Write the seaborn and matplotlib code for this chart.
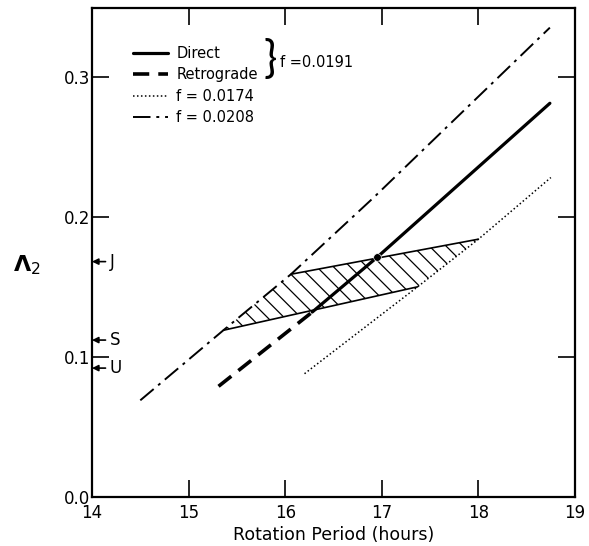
import matplotlib
matplotlib.use("Agg")
import matplotlib.pyplot as plt
import seaborn as sns
from matplotlib.lines import Line2D

# ---- data ----
dd_x = [14.50, 15.36, 16.06, 16.92, 18.74]      # f = 0.0208 (dash-dot)
dd_y = [0.069, 0.119, 0.159, 0.214, 0.335]
direct_x = [16.28, 16.95, 18.74]                 # Direct, f = 0.0191
direct_y = [0.132, 0.171, 0.281]
retro_x = [15.31, 16.28]                         # Retrograde, f = 0.0191
retro_y = [0.079, 0.132]
dot_x = [16.20, 17.37, 18.00, 18.75]             # f = 0.0174 (dotted)
dot_y = [0.088, 0.150, 0.184, 0.228]
hatch_x = [15.36, 16.06, 18.00, 17.37]           # hatched region corners
hatch_y = [0.119, 0.159, 0.184, 0.150]
point_x = [16.95]
point_y = [0.171]
planet_names = ["J", "S", "U"]
planet_vals = [0.168, 0.112, 0.092]
xticks = [14, 15, 16, 17, 18, 19]
yticks = [0.0, 0.1, 0.2, 0.3]

sns.set_style("ticks")
plt.rcParams['font.family'] = ['DejaVu Sans']
plt.rcParams['hatch.linewidth'] = 0.9
for k in ['text.color', 'axes.labelcolor', 'xtick.color', 'ytick.color', 'axes.edgecolor']:
    plt.rcParams[k] = 'black'

fig = plt.figure(figsize=(5.89, 5.46), dpi=100)
ax = fig.add_axes([92/589, 1-497/546, 483/589, 489/546])

sns.lineplot(x=dd_x, y=dd_y, ax=ax, color='black', lw=1.4,
             linestyle=(0, (9, 3, 1.5, 3)), sort=False, estimator=None)
sns.lineplot(x=direct_x, y=direct_y, ax=ax, color='black', lw=2.3,
             sort=False, estimator=None)
sns.lineplot(x=retro_x, y=retro_y, ax=ax, color='black', lw=2.6,
             linestyle=(0, (4.5, 2.5)), sort=False, estimator=None)
sns.lineplot(x=dot_x, y=dot_y, ax=ax, color='black', lw=1.1,
             linestyle=(0, (1, 1.6)), sort=False, estimator=None)

# hatched region
ax.fill(hatch_x, hatch_y, facecolor='none', edgecolor='black', hatch='\\\\', lw=0)
ax.plot([hatch_x[0], hatch_x[3]], [hatch_y[0], hatch_y[3]], color='black', lw=1.2)
ax.plot([hatch_x[1], hatch_x[2]], [hatch_y[1], hatch_y[2]], color='black', lw=1.2)
sns.scatterplot(x=point_x, y=point_y, ax=ax, color='black', s=30, zorder=5)

# planets
for name, v in zip(planet_names, planet_vals):
    ax.annotate("", xy=(14.0, v), xytext=(14.14, v),
                arrowprops=dict(arrowstyle='-|>', color='black', lw=1.2,
                                mutation_scale=9, shrinkA=0, shrinkB=0))
    ax.text(14.18, v, name, fontsize=12, va='center', ha='left')

ax.set_xlim(14, 19)
ax.set_ylim(0, 0.349)
ax.set_xticks(xticks)
ax.set_xticklabels([str(t) for t in xticks])
ax.set_yticks(yticks)
ax.set_yticklabels([f"{t:.1f}" for t in yticks])
ax.tick_params(direction='in', length=12, width=1.2, top=True, right=True,
               labelsize=12)
ax.tick_params(axis='x', pad=5)
ax.tick_params(axis='y', pad=1)
for s in ax.spines.values():
    s.set_linewidth(1.6)
    s.set_visible(True)

ax.set_xlabel("Rotation Period (hours)", fontsize=12.5, labelpad=3)
ax.set_ylabel(r"$\mathbf{\Lambda}_{2}$", fontsize=16, rotation=0)
ax.yaxis.set_label_coords(-0.135, 0.45)

# legend
handles = [Line2D([], [], color='black', lw=2.3),
           Line2D([], [], color='black', lw=2.6, linestyle=(0, (4.5, 2.5))),
           Line2D([], [], color='black', lw=1.1, linestyle=(0, (1, 1.6))),
           Line2D([], [], color='black', lw=1.4, linestyle=(0, (9, 3, 1.5, 3)))]
labels = ["Direct", "Retrograde", "f = 0.0174", "f = 0.0208"]
leg = ax.legend(handles, labels, loc='upper left', bbox_to_anchor=(0.072, 0.935),
                frameon=False, fontsize=10.5, handlelength=2.4, handletextpad=0.6,
                labelspacing=0.45, borderaxespad=0)
ax.text(0.355, 0.892, "}", transform=ax.transAxes, fontsize=32, va='center',
        ha='left', family=['Lato'], fontweight='normal')
ax.text(0.390, 0.888, "f =0.0191", transform=ax.transAxes, fontsize=10.5,
        va='center', ha='left')

fig.savefig("out.png", dpi=100)
